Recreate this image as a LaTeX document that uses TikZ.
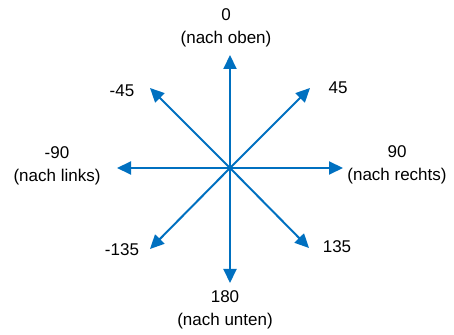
\documentclass[tikz,border=0pt]{standalone}
\usepackage{fontspec}
\setmainfont{Liberation Sans}
\usetikzlibrary{arrows.meta}
\definecolor{arrowblue}{RGB}{0,112,192}
\tikzset{
  dirarrow/.style={draw=arrowblue, line width=2pt, -{Triangle[length=14pt,width=13pt]}},
  lbl/.style={align=center, inner sep=0pt, font=\fontsize{17}{23}\selectfont}
}
\begin{document}
\begin{tikzpicture}[x=1pt,y=1pt]
\useasboundingbox (0,0) rectangle (454,334);
\coordinate (c) at (230,166);
\coordinate (tu) at (230,279);
\coordinate (td) at (230,51);
\coordinate (tl) at (117,166);
\coordinate (tr) at (343,166);
\coordinate (tur) at (310,246);
\coordinate (tul) at (150,246);
\coordinate (tll) at (150,85);
\coordinate (tlr) at (309,86);
\foreach \t in {tu,td,tl,tr,tur,tul,tll,tlr}{\draw[dirarrow] (c) -- (\t);}
\node[lbl] (l0) at (226,306.5) {0\\(nach oben)};
\node[lbl] (l45) at (338,246) {45};
\node[lbl] (lm45) at (122,243) {-45};
\node[lbl] (lm90) at (57,168) {-90\\(nach links)};
\node[lbl] (l90) at (397,169.5) {90\\(nach rechts)};
\node[lbl] (lm135) at (122,84) {-135};
\node[lbl] (l135) at (337,87) {135};
\node[lbl] (l180) at (225,24) {180\\(nach unten)};
\end{tikzpicture}
\end{document}
